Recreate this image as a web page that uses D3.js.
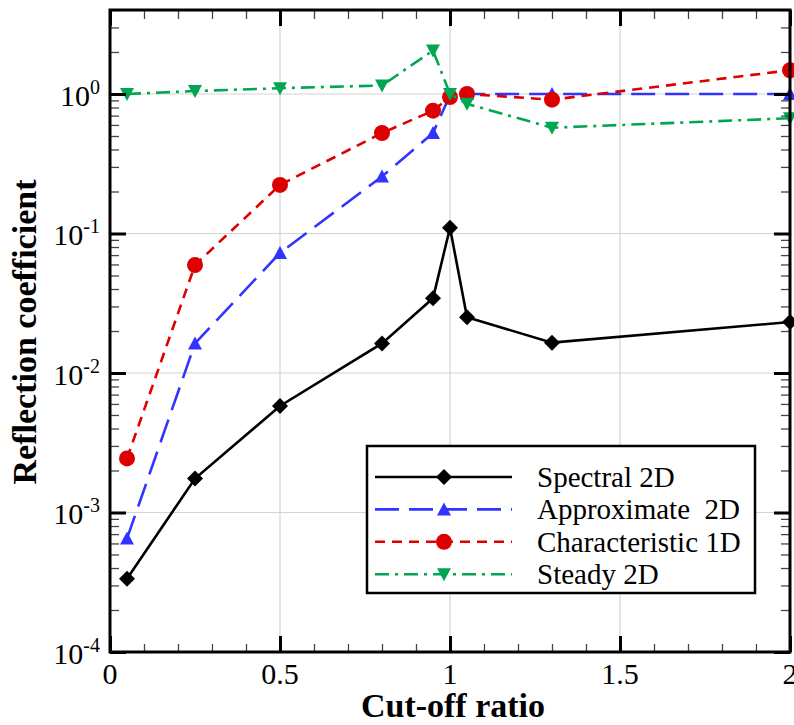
<!DOCTYPE html>
<html><head><meta charset="utf-8">
<script src="https://cdn.jsdelivr.net/npm/d3@7"></script>
<style>
html,body{margin:0;padding:0;background:#fff;}
svg{display:block;}
text{font-family:"Liberation Serif","Times New Roman",serif;fill:#000;}
</style></head>
<body>
<svg id="chart" width="794" height="725"></svg>
<script>
// ---- data ----
const xSpectral = [0.05, 0.25, 0.5, 0.8, 0.95, 1.0, 1.05, 1.3, 2.0];
const ySpectral = [3.35e-4, 1.75e-3, 5.8e-3, 0.0163, 0.0343, 0.110, 0.0251, 0.0165, 0.0232];
const xApprox = [0.05, 0.25, 0.5, 0.8, 0.95, 1.0, 1.05, 1.3, 2.0];
const yApprox = [6.5e-4, 0.0163, 0.0726, 0.256, 0.525, 0.98, 1.0, 1.0, 1.0];
const xCharac = [0.05, 0.25, 0.5, 0.8, 0.95, 1.0, 1.05, 1.3, 2.0];
const yCharac = [2.44e-3, 0.0594, 0.223, 0.525, 0.759, 0.95, 1.0, 0.91, 1.48];
const xSteady = [0.05, 0.25, 0.5, 0.8, 0.95, 1.0, 1.05, 1.3, 2.0];
const ySteady = [1.0, 1.05, 1.10, 1.15, 2.05, 1.0, 0.85, 0.573, 0.67];
const seriesNames = ["Spectral 2D", "Approximate  2D", "Characteristic 1D", "Steady 2D"];
const xTickValues = [0, 0.5, 1, 1.5, 2];
const xTickLabels = ["0", "0.5", "1", "1.5", "2"];
const yTickValues = [1e-4, 1e-3, 1e-2, 1e-1, 1];
const yTickExponents = ["-4", "-3", "-2", "-1", "0"];
const xTitle = "Cut-off ratio";
const yTitle = "Reflection coefficient";

// ---- layout ----
const L = 110, R = 790, T = 10, B = 652;
const svg = d3.select("#chart");
const x = d3.scaleLinear().domain([0, 2]).range([L, R]);
const y = d3.scaleLog().domain([1e-4, 4]).range([B, T]);

// minor ticks
const xMinor = d3.range(0, 2.0001, 0.1).map(v => +v.toFixed(2)).filter(v => !xTickValues.some(m => Math.abs(m - v) < 1e-6));
const yMinor = [];
for (let e = -4; e <= 0; e++) for (let k = 2; k <= 9; k++) { const v = k * Math.pow(10, e); if (v <= 4.0001) yMinor.push(v); }

// grid
const grid = svg.append("g");
grid.selectAll("line.gx").data(xTickValues.filter(v => v > 0 && v < 2)).enter().append("line")
  .attr("x1", d => x(d)).attr("x2", d => x(d)).attr("y1", T).attr("y2", B)
  .attr("stroke", "#d4d4d4").attr("stroke-width", 1.2);
grid.selectAll("line.gy").data(yTickValues.filter(v => v > 1e-4)).enter().append("line")
  .attr("x1", L).attr("x2", R).attr("y1", d => y(d)).attr("y2", d => y(d))
  .attr("stroke", "#d4d4d4").attr("stroke-width", 1.2);

// marker shapes
function markerPath(type) {
  if (type === "diamond") return "M0,-8L8,0L0,8L-8,0Z";
  if (type === "triUp") return "M0,-7L7,6L-7,6Z";
  if (type === "triDown") return "M0,7L7,-6L-7,-6Z";
  return d3.arc()({innerRadius: 0, outerRadius: 8, startAngle: 0, endAngle: 2 * Math.PI});
}

const series = [
  {name: seriesNames[0], xs: xSpectral, ys: ySpectral, color: "#000000", dash: null, marker: "diamond"},
  {name: seriesNames[1], xs: xApprox, ys: yApprox, color: "#3333ff", dash: "24,10", marker: "triUp"},
  {name: seriesNames[2], xs: xCharac, ys: yCharac, color: "#dd0000", dash: "10,7", marker: "circle"},
  {name: seriesNames[3], xs: xSteady, ys: ySteady, color: "#00a651", dash: "14,6,3,6", marker: "triDown"}
];

const line = d3.line().x(d => x(d[0])).y(d => y(d[1]));
const plot = svg.append("g");
series.forEach(s => {
  const pts = s.xs.map((v, i) => [v, s.ys[i]]);
  plot.append("path").attr("d", line(pts)).attr("fill", "none")
    .attr("stroke", s.color).attr("stroke-width", 2.6)
    .attr("stroke-dasharray", s.dash);
  plot.selectAll(null).data(pts).enter().append("path")
    .attr("d", markerPath(s.marker))
    .attr("transform", d => `translate(${x(d[0])},${y(d[1])})`)
    .attr("fill", s.color);
});

// axes frame with inward ticks
const axes = svg.append("g");
function addAxis(gen, transform, values, size, width, color) {
  const g = axes.append("g").attr("transform", transform)
    .call(gen.tickValues(values).tickSize(size).tickSizeOuter(0).tickFormat(""));
  g.select(".domain").remove();
  g.selectAll(".tick line").attr("stroke", color).attr("stroke-width", width);
}
addAxis(d3.axisBottom(x), `translate(0,${B})`, xMinor, -8, 1.3, "#444");
addAxis(d3.axisBottom(x), `translate(0,${B})`, xTickValues, -16, 3, "#000");
addAxis(d3.axisTop(x), `translate(0,${T})`, xMinor, -9, 1.3, "#444");
addAxis(d3.axisTop(x), `translate(0,${T})`, xTickValues, -16, 3, "#000");
addAxis(d3.axisLeft(y), `translate(${L},0)`, yMinor, -9, 1.3, "#444");
addAxis(d3.axisLeft(y), `translate(${L},0)`, yTickValues, -16, 3, "#000");
addAxis(d3.axisRight(y), `translate(${R},0)`, yMinor, -9, 1.3, "#444");
addAxis(d3.axisRight(y), `translate(${R},0)`, yTickValues, -16, 3, "#000");
axes.append("rect").attr("x", L).attr("y", T).attr("width", R - L).attr("height", B - T)
  .attr("fill", "none").attr("stroke", "#000").attr("stroke-width", 3);

// x tick labels
svg.append("g").selectAll("text").data(xTickValues).enter().append("text")
  .attr("x", d => x(d)).attr("y", 684).attr("text-anchor", "middle")
  .attr("font-size", 30).text((d, i) => xTickLabels[i]);

// y tick labels with superscripts
const yl = svg.append("g").selectAll("text").data(yTickValues).enter().append("text")
  .attr("x", 88).attr("y", d => y(d) + 12).attr("text-anchor", "end").attr("font-size", 30);
yl.append("tspan").text("10");
yl.append("tspan").attr("font-size", 20).attr("dy", -12).text((d, i) => yTickExponents[i]);
svg.selectAll("text").filter(function(){ return this.getAttribute("text-anchor")==="end"; }).attr("x", null)
  .each(function(d){ const w = this.getComputedTextLength(); d3.select(this).attr("text-anchor","start").attr("x", 100 - w); });

// axis titles
svg.append("text").attr("x", 453).attr("y", 717).attr("text-anchor", "middle")
  .attr("font-size", 34).attr("font-weight", "bold").text(xTitle);
svg.append("text").attr("transform", "translate(36,332) rotate(-90)").attr("text-anchor", "middle")
  .attr("font-size", 34).attr("font-weight", "bold").text(yTitle);

// legend
const lg = svg.append("g");
lg.append("rect").attr("x", 367).attr("y", 446).attr("width", 388).attr("height", 147)
  .attr("fill", "#fff").attr("stroke", "#000").attr("stroke-width", 2.5);
series.forEach((s, i) => {
  const cy = 477 + i * 32.4;
  lg.append("line").attr("x1", 375).attr("x2", 512).attr("y1", cy).attr("y2", cy)
    .attr("stroke", s.color).attr("stroke-width", 2.6).attr("stroke-dasharray", s.dash);
  lg.append("path").attr("d", markerPath(s.marker)).attr("transform", `translate(444,${cy})`).attr("fill", s.color);
  lg.append("text").attr("x", 537).attr("y", cy + 10).attr("font-size", 29).attr("xml:space", "preserve")
    .style("white-space", "pre").text(s.name);
});
</script>
</body></html>
